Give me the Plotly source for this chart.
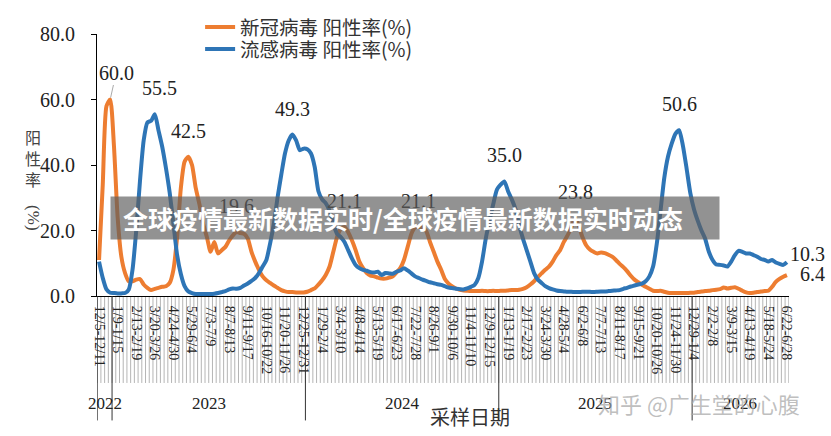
import plotly.graph_objects as go

# ---------------- data ----------------
covid = [11, 34, 58, 60, 46, 24, 12, 7, 4.5, 4.5, 5, 5.2, 3.5, 2.5, 1.8, 2.2, 2.5, 2.8, 3, 4,
         8, 18, 33, 41, 42.5, 40, 33, 28, 22, 18, 13.5, 16.5, 13, 14, 15, 17, 18.5, 19.6, 19.2, 19,
         17.5, 13.5, 10.5, 8, 6, 4.8, 4, 3.2, 2.5, 1.8, 1.4, 1.2, 1.2, 1.1, 1.1, 1.1, 1.3, 1.8, 2.3, 3.5,
         4.8, 6.5, 9, 13.5, 18, 20.5, 21.1, 19.5, 17, 14, 10.5, 8.5, 7, 6.2, 6, 5.6, 5.3, 5.3, 5.6, 6,
         7.2, 8.5, 11, 15, 19, 21, 21.1, 20.8, 19.8, 16.5, 13.5, 10.5, 8, 5.2, 3.8, 2.9, 2.3, 1.9, 1.7, 1.6,
         1.5, 1.5, 1.5, 1.6, 1.5, 1.5, 1.6, 1.5, 1.6, 1.6, 1.7, 1.8, 1.8, 1.9, 2.2, 2.7, 3.5, 4.5, 5.8, 6.9,
         8, 9, 10.5, 12.5, 14, 16.5, 18.5, 21, 23.8, 21.5, 18, 15.5, 14.2, 13.5, 13, 13.3, 13.1, 12.6, 12, 11,
         9.8, 8.8, 7.6, 6.2, 5, 4.2, 3.4, 2.8, 2.2, 1.6, 1.5, 1.6, 1.3, 1, 0.9, 0.9, 0.9, 0.9, 0.9, 1,
         1, 1.2, 1.4, 1.5, 1.6, 1.8, 1.9, 2.1, 2.6, 2.3, 2.5, 2.7, 2.2, 1.6, 1.1, 0.9, 1, 1.2, 1.4, 1.5,
         1.6, 2.8, 4.3, 5.2, 5.9, 6.4]

flu = [10.5, 5.5, 2, 1, 0.9, 0.8, 0.8, 0.9, 2, 8, 20, 35, 47.5, 53, 53.5, 55.5, 50.5, 45.5, 39, 31.5,
       22, 12.5, 6.7, 3, 1.4, 0.9, 0.6, 0.6, 0.6, 0.6, 0.6, 0.7, 0.9, 1.2, 1.5, 2, 2.3, 2.2, 2.5, 3.2,
       3.8, 4.6, 5.5, 7, 9, 11, 16, 22, 30, 37, 43.5, 47.5, 49.3, 47.5, 44.5, 45, 44.8, 43.5, 39.4, 32,
       29.5, 28.3, 26, 22, 19, 18, 16.5, 14, 11.5, 9.5, 8.5, 8, 7.7, 7.3, 7.2, 7.4, 6.4, 7, 6.9, 6.8,
       7.4, 7.8, 8.5, 7.8, 6.9, 6, 5.5, 5, 4.6, 4.2, 3.9, 3.6, 3.4, 3, 2.6, 2.4, 2.2, 2.1, 2, 2.3,
       2.8, 3.4, 5.5, 10.5, 17.5, 23, 28, 32.5, 34, 35, 32, 29.5, 26.5, 21.5, 17.5, 14, 10.5, 7, 5, 4,
       3, 2.4, 2, 1.7, 1.5, 1.4, 1.3, 1.3, 1.2, 1.2, 1.3, 1.3, 1.3, 1.2, 1.3, 1.4, 1.4, 1.5, 1.6, 1.7,
       1.8, 2.2, 2.5, 2.9, 3.2, 3.5, 3.8, 4.5, 6, 9, 16, 26, 36, 42.5, 46.5, 49.5, 50.6, 46, 39, 31.5,
       26.5, 23, 20, 17.5, 13.5, 11, 9.6, 9.5, 9.3, 9, 10.5, 12.5, 13.8, 13.5, 13, 13, 12.5, 12, 11.3, 11,
       10.5, 11, 10.2, 9.8, 9.5, 10.3]

tick_labels = ["12/5-12/11", "1/9-1/15", "2/13-2/19", "3/20-3/26", "4/24-4/30", "5/29-6/4",
               "7/3-7/9", "8/7-8/13", "9/11-9/17", "10/16-10/22", "11/20-11/26", "12/25-12/31",
               "1/29-2/4", "3/4-3/10", "4/8-4/14", "5/13-5/19", "6/17-6/23", "7/22-7/28",
               "8/26-9/1", "9/30-10/6", "11/4-11/10", "12/9-12/15", "1/13-1/19", "2/17-2/23",
               "3/24-3/30", "4/28-5/4", "6/2-6/8", "7/7-7/13", "8/11-8/17", "9/15-9/21",
               "10/20-10/26", "11/24-11/30", "12/29-1/4", "2/2-2/8", "3/9-3/15", "4/13-4/19",
               "5/18-5/24", "6/22-6/28"]
tick_step = 5

years = ["2022", "2023", "2024", "2025", "2026"]
year_first_week = [0, 4, 56, 108, 160]

# labelled points (week index)
covid_labels = [3, 24, 37, 66, 86, 128]
flu_labels = [15, 52, 109, 156]

# ---------------- figure ----------------
weeks = list(range(len(covid)))
ORANGE = "#ED7D31"
BLUE = "#2E75B6"
SERIF = "Liberation Serif, Times New Roman, serif"
CJK = "Noto Sans CJK SC, sans-serif"
LBL = dict(family=SERIF, size=20, color="#222")

fig = go.Figure()
fig.add_trace(go.Scatter(x=weeks, y=covid, mode="lines", name="新冠病毒 阳性率(%)", legend="legend",
                         line=dict(color=ORANGE, width=4, shape="spline", smoothing=0.6)))
fig.add_trace(go.Scatter(x=weeks, y=flu, mode="lines", name="流感病毒 阳性率(%)", legend="legend2",
                         line=dict(color=BLUE, width=4, shape="spline", smoothing=0.6)))

n = len(weeks)
# weekly separators in the category label area
for k in range(n + 1):
    fig.add_shape(type="line", xref="x", yref="paper", x0=k - 0.5, x1=k - 0.5,
                  y0=0, y1=-0.332, line=dict(color="#b5b5b5", width=1), layer="below")
# year boundaries
bounds = year_first_week + [n]
for b in bounds[:-1]:
    fig.add_shape(type="line", xref="x", yref="paper", x0=b - 0.5, x1=b - 0.5,
                  y0=0, y1=-0.475, line=dict(color="#333", width=1))
for yi, yr in enumerate(years):
    fig.add_annotation(x=(bounds[yi] + bounds[yi + 1] - 1) / 2, xref="x", y=-0.41, yref="paper",
                       xanchor="center", yanchor="middle",
                       text=yr, showarrow=False, font=dict(family=SERIF, size=17, color="#222"))

# data labels
for idx in covid_labels:
    v = covid[idx]
    if idx == 3:
        fig.add_annotation(x=idx, y=v, text=f"{v:.1f}", showarrow=True, arrowhead=0,
                           arrowwidth=1, arrowcolor="#aaa", ax=6, ay=-27, standoff=2, font=LBL)
    else:
        fig.add_annotation(x=idx, y=v, text=f"{v:.1f}", showarrow=False, yshift=26, font=LBL)
for idx in flu_labels:
    v = flu[idx]
    fig.add_annotation(x=idx, y=v, text=f"{v:.1f}", showarrow=False, yshift=26,
                       xshift=5 if idx == 15 else 0, font=LBL)
fig.add_annotation(x=weeks[-1], y=flu[-1], text=f"{flu[-1]:.1f}", showarrow=False,
                   xanchor="left", xshift=1, yshift=8, font=LBL)
fig.add_annotation(x=weeks[-1], y=covid[-1], text=f"{covid[-1]:.1f}", showarrow=False,
                   xanchor="left", xshift=11, yshift=1, font=LBL)

# y-axis title (stacked)
fig.add_annotation(x=-0.092, xref="paper", y=0.525, yref="paper", text="阳<br>性<br>率",
                   xanchor="center", yanchor="middle",
                   showarrow=False, font=dict(family=CJK, size=16, color="#444"))
fig.add_annotation(x=-0.092, xref="paper", y=0.30, yref="paper", text="(%)", textangle=90,
                   xanchor="center", yanchor="middle",
                   showarrow=False, font=dict(family=SERIF, size=17, color="#444"))
# x-axis title
fig.add_annotation(x=0.539, xref="paper", y=-0.46, yref="paper", text="采样日期",
                   xanchor="center", yanchor="middle",
                   showarrow=False, font=dict(family=CJK, size=20, color="#333"))

# overlay banner (drawn over the labels)
fig.add_annotation(x=0.0188, xref="paper", y=0.297, yref="paper", xanchor="left", yanchor="middle",
                   text=" ", width=608, height=42, borderpad=0, bgcolor="rgba(95,95,95,0.68)",
                   showarrow=False)
fig.add_annotation(x=0.035, xref="paper", y=0.297, yref="paper", xanchor="left", yanchor="middle",
                   text="<b>全球疫情最新数据实时/全球疫情最新数据实时动态</b>", showarrow=False,
                   font=dict(family=CJK, size=25, color="white"))
# watermark
fig.add_annotation(x=0.87, xref="paper", y=-0.41, yref="paper", xanchor="center", yanchor="middle",
                   text="知乎 @广生堂的心腹", showarrow=False,
                   font=dict(family=CJK, size=22, color="rgba(170,170,170,0.75)"))

legend_font = dict(family=CJK, size=19.5, color="#333")
fig.update_layout(
    width=831, height=436,
    margin=dict(l=97, r=42, t=34, b=140, autoexpand=False),
    plot_bgcolor="white", paper_bgcolor="white",
    showlegend=True,
    legend=dict(x=0.149, y=1.1, xanchor="left", yanchor="top", bgcolor="rgba(0,0,0,0)",
                font=legend_font),
    legend2=dict(x=0.149, y=1.016, xanchor="left", yanchor="top", bgcolor="rgba(0,0,0,0)",
                 font=legend_font),
    xaxis=dict(range=[-0.55, n - 0.45], showgrid=False, zeroline=False, showline=True,
               linecolor="black", linewidth=1, ticks="",
               tickvals=weeks[::tick_step], ticktext=tick_labels, tickangle=90,
               ticklabelstandoff=6,
               tickfont=dict(family=SERIF, size=14, color="#222")),
    yaxis=dict(range=[0, 80], dtick=20, tickformat=".1f", showgrid=False, zeroline=False,
               showline=True, linecolor="black", linewidth=1, ticks="outside", ticklen=5,
               tickcolor="black", ticklabelstandoff=12,
               tickfont=dict(family=SERIF, size=20, color="#222")),
)

fig.write_html("out.html")
